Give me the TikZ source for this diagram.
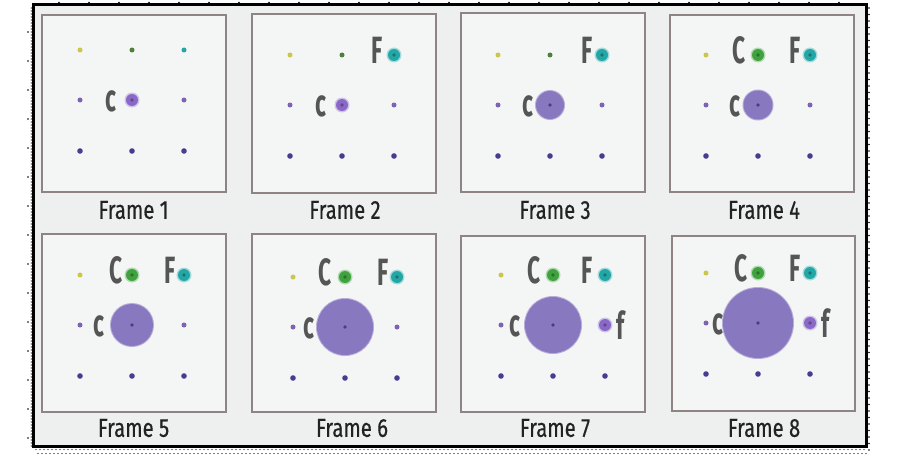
\documentclass[tikz,border=0pt]{standalone}
\usepackage{fontspec}
\setmainfont{Fira Sans}
\newfontfamily\lblfont{Fira Sans}[FakeStretch=0.6]
\newfontfamily\capfont{Fira Sans}[FakeStretch=0.78, FakeBold=0.4]
\definecolor{bgc}{HTML}{EEF0F0}
\definecolor{panelfill}{HTML}{F4F5F5}
\definecolor{panelborder}{HTML}{8E8484}
\definecolor{ylw}{HTML}{C9C84A}
\definecolor{grnS}{HTML}{4F7F3A}
\definecolor{grnB}{HTML}{3FA23F}
\definecolor{tealc}{HTML}{22A6A6}
\definecolor{lav}{HTML}{8878C0}
\definecolor{purpS}{HTML}{7E62B4}
\definecolor{purpM}{HTML}{8A68C8}
\definecolor{purpD}{HTML}{4B3B8E}
\definecolor{lblc}{HTML}{555555}
\definecolor{capc}{HTML}{222222}
\newcommand\dotgrid[2]{%
  \fill[ylw] (#1-52,#2-50) circle (2.5);
  \fill[grnS] (#1,#2-50) circle (2.5);
  \fill[tealc] (#1+52,#2-50) circle (2.5);
  \fill[purpS] (#1-52,#2) circle (2.5);
  \fill[purpS] (#1+52,#2) circle (2.5);
  \fill[purpD] (#1-52,#2+51) circle (2.8);
  \fill[purpD] (#1,#2+51) circle (2.8);
  \fill[purpD] (#1+52,#2+51) circle (2.8);
}
\newcommand\glowdot[3]{%
  \fill[#1!40] (#2,#3) circle (7.5);
  \fill[#1] (#2,#3) circle (6);
  \fill[#1!70!black] (#2,#3) circle (1.8);
}
\newcommand\bigdisc[3]{%
  \fill[lav!60] (#1,#2) circle (#3+1);
  \fill[lav] (#1,#2) circle (#3);
  \fill[purpD] (#1,#2) circle (1.8);
}
\begin{document}
\begin{tikzpicture}[x=1pt,y=-1pt,
  panel/.style={draw=panelborder, fill=panelfill, line width=2pt},
  letter/.style={font=\lblfont\bfseries\fontsize{38}{38}\selectfont, text=lblc, inner sep=0pt},
  caption/.style={font=\capfont\fontsize{26}{26}\selectfont, text=capc, inner sep=0pt},
  speck/.style={fill=black}]
\useasboundingbox (0,0) rectangle (905,460);
\fill[white] (0,0) rectangle (905,460);
% scan specks around the frame
\foreach \y in {8,14.5,...,455} \fill[speck] (869,\y) circle (0.9);
\foreach \x in {36,40,...,866} {\fill[speck] (\x,449.5) circle (0.6); \fill[speck] (\x+2,453.5) circle (0.6);}
\foreach \y in {32,61,...,440} \fill[speck] (28,\y) circle (0.9);
\foreach \y in {8,11,...,446} \fill[speck] (31.2,\y) circle (0.6);
\foreach \x in {59,89,...,860} \fill[speck] (\x,2.5) circle (0.8);
% outer frame
\draw[line width=3pt, fill=bgc] (33,5) rectangle (866,446);
% panels
\draw[panel] (42,15) rectangle (226,192);
\draw[panel] (252,14) rectangle (436,193);
\draw[panel] (461,13) rectangle (645,192);
\draw[panel] (670,15) rectangle (854,192);
\draw[panel] (42,234) rectangle (226,412);
\draw[panel] (252,234) rectangle (436,412);
\draw[panel] (461,236) rectangle (645,412);
\draw[panel] (672,236) rectangle (855,411);
% Frame 1
\dotgrid{132}{100}
\glowdot{purpM}{132}{100}
\node[letter] (c1) at (111,101) {c};
% Frame 2
\dotgrid{342}{105}
\glowdot{purpM}{342}{105}
\glowdot{tealc}{394}{55}
\node[letter] (F2) at (377,50) {F};
\node[letter] (c2) at (321,106) {c};
% Frame 3
\dotgrid{550}{105}
\bigdisc{550}{105}{14}
\glowdot{tealc}{602}{55}
\node[letter] (F3) at (587,50) {F};
\node[letter] (c3) at (527.5,106) {c};
% Frame 4
\dotgrid{758}{105}
\bigdisc{758}{105}{14.5}
\glowdot{grnB}{758}{55}
\node[letter] (C4) at (739,50) {C};
\glowdot{tealc}{810}{55}
\node[letter] (F4) at (795,50) {F};
\node[letter] (c4) at (735,106) {c};
% Frame 5
\dotgrid{132}{325}
\bigdisc{132}{325}{21}
\glowdot{grnB}{132}{275}
\node[letter] (C5) at (116,270) {C};
\glowdot{tealc}{184}{275}
\node[letter] (F5) at (170,270) {F};
\node[letter] (c5) at (99,326) {c};
% Frame 6
\dotgrid{345}{327}
\bigdisc{345}{327}{28}
\glowdot{grnB}{345}{277}
\node[letter] (C6) at (325,272) {C};
\glowdot{tealc}{397}{277}
\node[letter] (F6) at (383,272) {F};
\node[letter] (c6) at (309,328) {c};
% Frame 7
\dotgrid{553}{325}
\bigdisc{553}{325}{28}
\glowdot{grnB}{553}{275}
\node[letter] (C7) at (534,270) {C};
\glowdot{tealc}{605}{275}
\node[letter] (F7) at (587,270) {F};
\glowdot{purpM}{605}{325}
\node[letter] (f7) at (621,325) {f};
\node[letter] (c7) at (515,326) {c};
% Frame 8
\dotgrid{758}{323}
\bigdisc{758}{323}{35}
\glowdot{grnB}{758}{273}
\node[letter] (C8) at (741,268) {C};
\glowdot{tealc}{810}{273}
\node[letter] (F8) at (795,268) {F};
\glowdot{purpM}{810}{323}
\node[letter] (f8) at (826,323) {f};
\node[letter] (c8) at (717.5,324) {c};
% captions
\node[caption] (cap1) at (133.5,210) {Frame 1};
\node[caption] (cap2) at (345,210) {Frame 2};
\node[caption] (cap3) at (555,210) {Frame 3};
\node[caption] (cap4) at (764,210) {Frame 4};
\node[caption] (cap5) at (133.5,428) {Frame 5};
\node[caption] (cap6) at (352,428) {Frame 6};
\node[caption] (cap7) at (555,428) {Frame 7};
\node[caption] (cap8) at (764,428) {Frame 8};
\end{tikzpicture}
\end{document}
